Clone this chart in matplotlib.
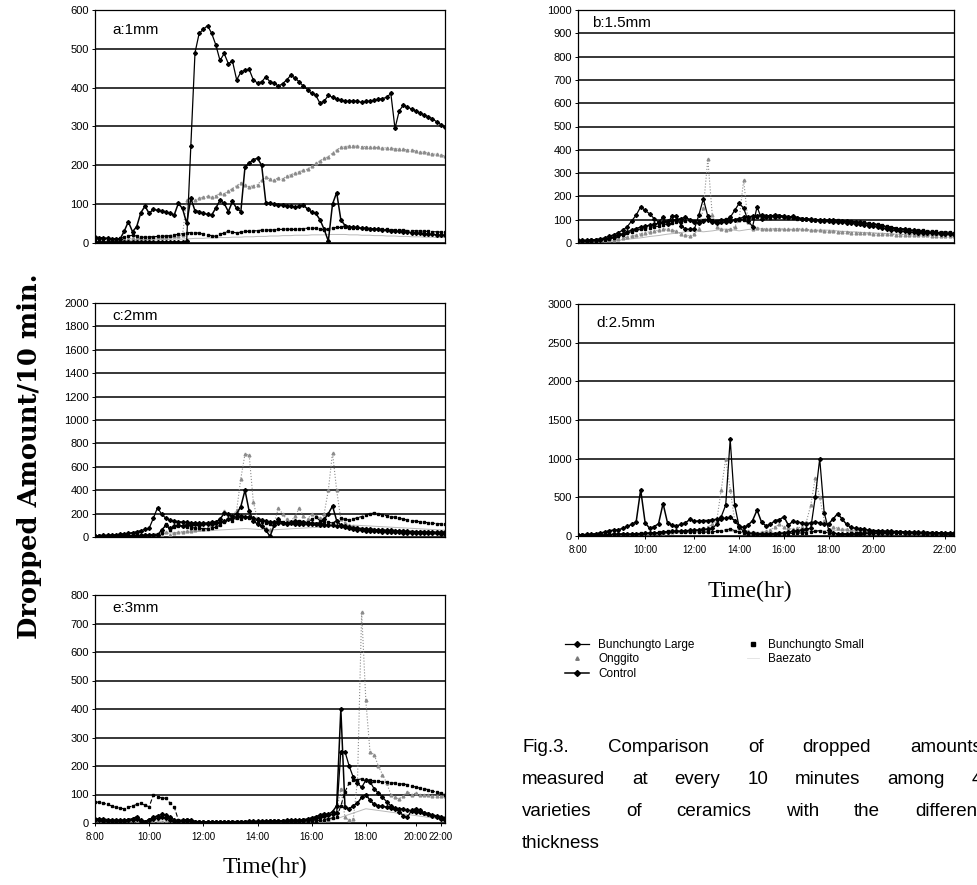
import numpy as np
import matplotlib
matplotlib.use("Agg")
import matplotlib.pyplot as plt
from matplotlib.lines import Line2D

# readings every 10 min from 8:00 to 22:00 (85 points per series)
series_names = ["Bunchungto Large", "Bunchungto Small", "Onggito", "Baezato", "Control"]

# ---- a : 1mm
a_large = [3, 3, 3, 3, 3, 3, 3, 3, 3, 3, 3, 3, 3, 3, 3, 3, 3, 3, 3, 3, 3, 3,
           5, 250, 490, 540, 550, 560, 540, 510, 470, 488, 462, 468, 420, 440, 445, 447, 420, 412,
           415, 428, 415, 412, 404, 410, 420, 432, 425, 415, 404, 395, 385, 380, 360, 365, 380, 375,
           370, 368, 365, 365, 366, 365, 362, 365, 365, 368, 370, 372, 375, 385, 295, 340, 355, 350,
           345, 340, 335, 330, 325, 320, 312, 305, 298]
a_small = [10, 10, 10, 9, 9, 10, 12, 15, 18, 20, 18, 15, 15, 16, 16, 17, 17, 18, 19, 21, 22, 24,
           26, 27, 27, 25, 23, 21, 19, 17, 22, 26, 30, 28, 26, 28, 30, 30, 31, 32, 33, 34, 33, 34,
           35, 35, 36, 35, 35, 36, 37, 38, 38, 38, 36, 34, 36, 38, 40, 40, 40, 39, 39, 38, 38, 37,
           37, 36, 36, 35, 35, 34, 34, 33, 33, 32, 32, 31, 31, 30, 30, 29, 29, 28, 28]
a_onggito = [8, 8, 8, 8, 8, 9, 9, 10, 10, 12, 12, 12, 14, 14, 15, 15, 16, 16, 17, 18, 18, 20,
             110, 115, 110, 115, 118, 120, 118, 122, 128, 126, 135, 140, 148, 155, 150, 145, 148, 150,
             162, 170, 165, 162, 168, 165, 172, 176, 180, 183, 188, 190, 198, 205, 212, 218, 222, 232,
             240, 246, 248, 250, 250, 249, 248, 248, 247, 246, 246, 245, 245, 244, 243, 242, 241, 240,
             239, 237, 235, 234, 232, 230, 228, 226, 224]
a_baezato = [5, 5, 5, 4, 4, 5, 5, 6, 6, 6, 7, 7, 7, 8, 8, 8, 9, 9, 9, 10, 10, 10,
             11, 11, 12, 12, 12, 13, 13, 13, 14, 14, 14, 15, 15, 15, 16, 16, 16, 17, 17, 17,
             18, 18, 18, 19, 19, 19, 20, 20, 20, 20, 21, 21, 21, 21, 22, 22, 22, 22, 22, 21,
             21, 21, 20, 20, 20, 19, 19, 19, 18, 18, 18, 17, 17, 17, 16, 16, 16, 15, 15, 15,
             14, 14, 14]
a_control = [15, 14, 13, 12, 11, 11, 10, 30, 55, 29, 42, 78, 95, 76, 87, 84, 83, 80, 76, 72,
             102, 89, 51, 115, 83, 81, 76, 74, 72, 90, 110, 102, 81, 107, 89, 81, 196, 205, 215, 218,
             200, 104, 102, 100, 99, 97, 96, 94, 92, 95, 97, 88, 80, 76, 60, 35, 5, 100, 130, 60,
             45, 42, 40, 40, 38, 38, 37, 36, 35, 34, 33, 32, 31, 30, 29, 28, 27, 26, 25, 24,
             23, 22, 21, 20, 20]

# ---- b : 1.5mm
b_large = [10, 12, 12, 14, 15, 18, 22, 30, 35, 45,
           55, 70, 95, 120, 155, 140, 125, 105, 90, 110,
           80, 118, 115, 75, 60, 58, 60, 120, 190, 115,
           95, 92, 100, 95, 110, 140, 170, 150, 95, 70,
           155, 105, 110, 115, 112, 118, 110, 112, 115, 108,
           105, 102, 100, 98, 96, 95, 94, 92, 90, 88,
           86, 84, 82, 80, 78, 75, 72, 68, 64, 60,
           57, 54, 52, 50, 48, 46, 45, 44, 43, 42,
           41, 40, 40, 39, 38]
b_small = [8, 8, 9, 10, 10, 12, 14, 18, 22, 28,
           35, 42, 48, 55, 58, 62, 66, 70, 72, 78,
           82, 85, 88, 92, 95, 98, 96, 94, 100, 105,
           98, 95, 100, 102, 105, 100, 98, 100, 104, 108,
           110, 112, 110, 108, 112, 115, 110, 108, 106, 105,
           104, 102, 100, 100, 98, 96, 95, 97, 98, 96,
           95, 94, 92, 90, 88, 85, 82, 80, 76, 72,
           68, 65, 62, 60, 58, 56, 55, 54, 52, 50,
           50, 48, 48, 46, 45]
b_onggito = [5, 5, 6, 6, 8, 10, 10, 12, 15, 18,
             22, 25, 30, 35, 40, 45, 48, 50, 55, 58,
             60, 55, 50, 40, 35, 30, 40, 60, 150, 360,
             120, 70, 60, 55, 60, 70, 100, 270, 90, 60,
             65, 62, 60, 58, 60, 62, 60, 58, 60, 62,
             60, 58, 56, 55, 54, 52, 50, 50, 48, 48,
             46, 45, 44, 44, 42, 42, 40, 40, 40, 38,
             38, 36, 36, 35, 35, 34, 34, 33, 33, 32,
             32, 31, 31, 30, 30]
b_baezato = [5, 5, 5, 6, 6, 7, 8, 9, 10, 12,
             14, 16, 18, 20, 22, 25, 28, 30, 32, 35,
             38, 40, 42, 45, 48, 50, 52, 50, 48, 50,
             52, 55, 58, 60, 58, 55, 52, 55, 58, 60,
             62, 60, 58, 60, 62, 60, 58, 56, 58, 60,
             58, 56, 55, 54, 55, 56, 55, 54, 52, 50,
             50, 48, 48, 46, 45, 44, 44, 42, 42, 40,
             40, 38, 38, 36, 36, 35, 35, 34, 34, 33,
             33, 32, 32, 31, 30]
b_control = [12, 10, 10, 11, 12, 14, 16, 20, 26, 34,
             40, 48, 55, 62, 68, 72, 76, 80, 85, 90,
             95, 98, 100, 105, 110, 100, 90, 85, 95, 100,
             90, 85, 88, 92, 95, 100, 105, 110, 112, 115,
             118, 120, 118, 115, 120, 118, 115, 112, 110, 108,
             105, 104, 102, 100, 100, 98, 98, 97, 96, 95,
             94, 92, 90, 88, 85, 82, 80, 78, 74, 70,
             66, 62, 60, 58, 56, 54, 52, 50, 48, 46,
             45, 44, 42, 41, 40]

# ---- c : 2mm
c_large = [10, 12, 14, 16, 18, 20, 24, 28, 32, 38,
           45, 55, 65, 75, 160, 250, 195, 160, 145, 138,
           132, 128, 125, 122, 120, 118, 116, 115, 114, 118,
           125, 135, 150, 165, 175, 180, 175, 170, 160, 150,
           142, 135, 130, 126, 122, 120, 118, 116, 115, 114,
           112, 110, 110, 108, 106, 104, 102, 100, 98, 95,
           90, 85, 80, 76, 72, 70, 66, 64, 62, 60,
           58, 56, 54, 52, 50, 48, 47, 46, 45, 44,
           43, 42, 41, 40, 40]
c_small = [8, 8, 9, 9, 10, 10, 11, 12, 12, 13,
           14, 15, 16, 18, 20, 25, 30, 110, 60, 85,
           95, 90, 85, 80, 78, 75, 72, 70, 75, 85,
           100, 130, 150, 140, 160, 150, 175, 160, 150, 140,
           130, 120, 110, 115, 140, 130, 120, 125, 135, 140,
           130, 125, 150, 170, 140, 130, 125, 120, 140, 160,
           150, 145, 155, 165, 175, 190, 200, 205, 200, 190,
           182, 175, 168, 160, 152, 145, 140, 135, 130, 126,
           122, 118, 115, 112, 110]
c_onggito = [3, 3, 3, 4, 4, 4, 5, 5, 5, 6,
             6, 6, 7, 7, 8, 8, 10, 40, 20, 30,
             40, 45, 50, 55, 60, 65, 70, 80, 90, 110,
             150, 220, 200, 180, 230, 500, 710, 700, 300, 150,
             100, 80, 60, 120, 245, 200, 150, 130, 180, 245,
             180, 150, 200, 180, 160, 200, 400, 720, 400, 150,
             120, 100, 90, 85, 80, 75, 72, 70, 68, 66,
             64, 62, 60, 58, 56, 55, 54, 52, 50, 50,
             48, 47, 46, 45, 45]
c_baezato = [5, 6, 6, 7, 8, 9, 10, 12, 14, 15,
             16, 18, 20, 22, 25, 28, 30, 32, 35, 38,
             40, 42, 44, 45, 46, 48, 50, 52, 55, 58,
             60, 62, 64, 66, 68, 70, 72, 70, 68, 66,
             64, 62, 60, 62, 64, 66, 68, 70, 72, 74,
             76, 78, 80, 82, 84, 86, 88, 90, 92, 94,
             96, 98, 100, 100, 98, 96, 94, 92, 90, 88,
             86, 84, 82, 80, 78, 76, 74, 72, 70, 68,
             66, 64, 62, 60, 58]
c_control = [5, 5, 6, 6, 7, 8, 8, 9, 10, 10,
             12, 12, 14, 15, 15, 16, 60, 100, 75, 90,
             100, 95, 105, 100, 110, 105, 115, 120, 125, 130,
             150, 205, 195, 180, 200, 260, 400, 220, 140, 110,
             95, 60, 5, 100, 150, 120, 110, 125, 135, 130,
             125, 120, 118, 115, 120, 150, 200, 265, 140, 100,
             85, 75, 68, 62, 58, 55, 52, 50, 48, 46,
             45, 44, 42, 40, 38, 36, 35, 34, 33, 32,
             31, 30, 30, 29, 28]

# ---- d : 2.5mm
d_large = [10, 10, 12, 12, 14, 15, 16, 18, 20, 22,
           24, 26, 28, 30, 32, 34, 36, 40, 45, 50,
           55, 60, 62, 65, 70, 72, 75, 80, 85, 90,
           100, 150, 250, 400, 1250, 400, 120, 60, 40, 35,
           30, 30, 28, 30, 32, 35, 40, 50, 60, 70,
           80, 90, 100, 500, 1000, 300, 80, 40, 30, 25,
           25, 28, 30, 32, 34, 36, 38, 40, 42, 44,
           45, 46, 46, 45, 44, 42, 40, 38, 36, 35,
           34, 33, 32, 31, 30]
d_small = [12, 12, 14, 14, 16, 18, 20, 22, 24, 26,
           28, 30, 30, 32, 34, 36, 40, 45, 50, 55,
           60, 62, 60, 58, 55, 52, 50, 48, 50, 52,
           55, 60, 70, 80, 90, 70, 50, 40, 30, 28,
           26, 25, 24, 25, 26, 28, 30, 32, 35, 38,
           40, 45, 50, 60, 70, 50, 40, 35, 30, 28,
           30, 35, 40, 45, 50, 52, 50, 48, 46, 44,
           42, 40, 38, 36, 35, 34, 33, 32, 31, 30,
           30, 29, 28, 28, 27]
d_onggito = [5, 5, 6, 6, 8, 10, 12, 14, 16, 18,
             20, 22, 24, 26, 28, 30, 32, 35, 40, 45,
             50, 55, 60, 65, 70, 75, 80, 90, 100, 120,
             150, 200, 600, 1000, 600, 200, 100, 80, 60, 50,
             45, 50, 60, 80, 120, 150, 120, 100, 90, 100,
             120, 180, 400, 750, 500, 200, 150, 120, 100, 90,
             85, 80, 75, 70, 68, 65, 62, 60, 58, 56,
             54, 52, 50, 48, 46, 45, 44, 42, 40, 38,
             37, 36, 35, 34, 33]
d_baezato = [8, 8, 9, 10, 10, 11, 12, 12, 13, 14,
             15, 16, 18, 20, 22, 24, 26, 28, 30, 32,
             34, 36, 38, 40, 42, 44, 46, 48, 50, 52,
             55, 58, 60, 62, 60, 58, 55, 52, 50, 48,
             46, 45, 44, 45, 46, 48, 50, 52, 54, 56,
             58, 60, 62, 64, 66, 68, 70, 72, 74, 76,
             75, 72, 70, 68, 66, 64, 62, 60, 58, 56,
             54, 52, 50, 48, 46, 45, 44, 42, 40, 38,
             37, 36, 35, 34, 33]
d_control = [15, 18, 20, 25, 30, 40, 50, 70, 75, 80,
             100, 125, 150, 185, 600, 170, 100, 120, 160, 420,
             170, 140, 130, 150, 170, 215, 190, 195, 200, 200,
             210, 215, 225, 230, 240, 200, 130, 110, 140, 200,
             335, 180, 130, 150, 200, 210, 250, 140, 190, 180,
             170, 160, 170, 180, 170, 150, 160, 220, 290, 220,
             150, 110, 100, 95, 85, 75, 70, 68, 65, 62,
             60, 58, 56, 54, 52, 50, 48, 46, 45, 44,
             42, 41, 40, 40, 38]

# ---- e : 3mm
e_large = [10, 10, 8, 8, 8, 8, 8, 8, 10, 12,
           15, 8, 5, 10, 15, 18, 20, 18, 12, 8,
           6, 8, 10, 8, 4, 3, 3, 3, 3, 3,
           3, 3, 3, 3, 4, 4, 4, 4, 5, 5,
           5, 5, 6, 6, 6, 7, 7, 7, 8, 8,
           10, 12, 15, 18, 22, 25, 28, 30, 35, 250,
           250, 200, 160, 140, 125, 150, 145, 120, 105, 90,
           75, 60, 50, 40, 25, 20, 45, 50, 45, 35,
           30, 25, 20, 15, 10]
e_small = [75, 72, 70, 65, 60, 55, 52, 50, 55, 60,
           65, 69, 62, 57, 98, 92, 88, 87, 70, 57,
           11, 8, 6, 5, 5, 5, 5, 5, 5, 5,
           5, 5, 5, 5, 5, 5, 5, 5, 5, 5,
           5, 5, 5, 5, 5, 5, 5, 5, 6, 6,
           6, 7, 8, 8, 10, 12, 15, 18, 20, 60,
           110, 140, 150, 152, 155, 152, 150, 148, 146, 145,
           143, 141, 140, 138, 136, 135, 130, 126, 122, 120,
           117, 112, 108, 104, 100]
e_onggito = [3, 3, 3, 3, 3, 3, 3, 3, 3, 3,
             3, 3, 3, 3, 3, 3, 3, 3, 3, 3,
             3, 3, 3, 3, 3, 3, 3, 3, 3, 3,
             3, 3, 3, 3, 3, 3, 3, 3, 3, 3,
             3, 3, 3, 3, 3, 3, 3, 3, 3, 3,
             4, 4, 5, 5, 6, 8, 10, 20, 40, 120,
             20, 10, 15, 150, 740, 430, 250, 240, 200, 170,
             140, 100, 90, 85, 95, 110, 100, 105, 100, 98,
             97, 96, 96, 95, 95]
e_baezato = [6, 6, 6, 7, 7, 7, 8, 8, 8, 9,
             9, 9, 8, 8, 8, 7, 7, 7, 6, 6,
             6, 6, 5, 5, 5, 5, 5, 5, 5, 5,
             5, 5, 5, 5, 5, 5, 5, 5, 5, 5,
             5, 5, 5, 5, 6, 6, 6, 6, 6, 6,
             7, 7, 7, 8, 8, 9, 10, 12, 15, 20,
             25, 30, 35, 40, 45, 50, 48, 46, 44, 42,
             40, 38, 36, 34, 32, 30, 28, 26, 24, 22,
             20, 18, 16, 14, 12]
e_control = [15, 14, 13, 12, 10, 10, 10, 10, 12, 15,
             22, 10, 5, 12, 20, 25, 30, 28, 20, 12,
             8, 10, 12, 10, 5, 5, 4, 4, 4, 4,
             4, 4, 4, 5, 5, 5, 5, 6, 6, 6,
             6, 7, 7, 8, 8, 8, 9, 10, 10, 10,
             12, 14, 18, 22, 28, 32, 30, 40, 60, 400,
             55, 50, 60, 70, 90, 100, 80, 65, 60, 58,
             56, 54, 52, 50, 48, 45, 42, 40, 38, 35,
             32, 28, 25, 22, 18]

time_labels = ["8:00", "10:00", "12:00", "14:00", "16:00", "18:00", "20:00", "22:00"]
d_tick_idx = [0, 15, 26, 36, 46, 56, 66, 82]
e_tick_idx = [0, 13, 26, 39, 52, 65, 77, 83]

styles = {
    "Baezato": dict(color="#b8b8b8", lw=0.7, ls="-"),
    "Onggito": dict(color="#8c8c8c", lw=0.8, ls=":", marker="^", ms=2.0),
    "Bunchungto Small": dict(color="black", lw=0.8, ls=(0, (4, 2)), marker="s", ms=1.8),
    "Bunchungto Large": dict(color="black", lw=0.9, ls="-", marker="D", ms=2.0),
    "Control": dict(color="black", lw=1.1, ls="-", marker="D", ms=2.0),
}
draw_order = ["Baezato", "Onggito", "Bunchungto Small", "Bunchungto Large", "Control"]

tick_font = "Liberation Sans"
W, H = 977, 885

fig = plt.figure(figsize=(W / 100, H / 100), dpi=100)


def px_rect(left, top, right, bottom):
    return [left / W, 1 - bottom / H, (right - left) / W, (bottom - top) / H]


def draw_panel(rect, label, lab_xy, data, ymax, ystep, tick_idx=None):
    ax = fig.add_axes(rect)
    for name in draw_order:
        vals = data[series_names.index(name)]
        ax.plot(np.arange(len(vals)), vals, **styles[name])
    ax.set_xlim(0, 84)
    ax.set_ylim(0, ymax)
    ax.set_yticks(np.arange(0, ymax + 1, ystep))
    ax.yaxis.grid(True, color="black", lw=1.1)
    ax.set_axisbelow(True)
    for sp in ax.spines.values():
        sp.set_linewidth(0.9)
    ax.tick_params(axis="y", length=2.5, width=0.7, pad=2)
    for t in ax.get_yticklabels():
        t.set_family(tick_font)
        t.set_fontsize(8)
    if tick_idx is None:
        ax.set_xticks([])
    else:
        ax.set_xticks(tick_idx)
        ax.set_xticklabels(time_labels, family=tick_font, fontsize=7)
        ax.tick_params(axis="x", length=2.5, width=0.7, pad=4)
    ax.text(lab_xy[0], lab_xy[1], label, transform=ax.transAxes, fontsize=11,
            family="Liberation Sans", va="center", ha="left")
    return ax


draw_panel(px_rect(95, 10, 445, 243), "a:1mm", (0.05, 0.915),
           [a_large, a_small, a_onggito, a_baezato, a_control], 600, 100)
draw_panel(px_rect(578, 10, 954, 243), "b:1.5mm", (0.037, 0.944),
           [b_large, b_small, b_onggito, b_baezato, b_control], 1000, 100)
draw_panel(px_rect(95, 303, 445, 537), "c:2mm", (0.049, 0.944),
           [c_large, c_small, c_onggito, c_baezato, c_control], 2000, 200)
draw_panel(px_rect(578, 304, 954, 536), "d:2.5mm", (0.05, 0.918),
           [d_large, d_small, d_onggito, d_baezato, d_control], 3000, 500, d_tick_idx)
draw_panel(px_rect(95, 595, 445, 823), "e:3mm", (0.049, 0.943),
           [e_large, e_small, e_onggito, e_baezato, e_control], 800, 100, e_tick_idx)

# shared axis titles
fig.text(30 / W, 1 - 456 / H, "Dropped Amount/10 min.", rotation=90, ha="center", va="center",
         family="DejaVu Serif", fontweight="bold", fontsize=18.5)
fig.text(265 / W, 1 - 867 / H, "Time(hr)", ha="center", va="center",
         family="Liberation Serif", fontsize=17)
fig.text(750 / W, 1 - 591 / H, "Time(hr)", ha="center", va="center",
         family="Liberation Serif", fontsize=17)

# legend
h_large = Line2D([], [], color="black", lw=0.9, marker="D", ms=3)
h_small = Line2D([], [], color="black", ls="none", marker="s", ms=3)
h_ongg = Line2D([], [], color="#777777", ls="none", marker="^", ms=2.5)
h_baez = Line2D([], [], color="#e0e0e0", lw=0.6)
h_ctrl = Line2D([], [], color="black", lw=1.1, marker="D", ms=3)
leg_font = dict(family="Liberation Sans", size=8.5)
fig.legend([h_large, h_ongg, h_ctrl], ["Bunchungto Large", "Onggito", "Control"],
           loc="upper left", bbox_to_anchor=(565 / W, 1 - 639 / H), frameon=False,
           borderpad=0, borderaxespad=0, handlelength=2.0, handletextpad=0.8,
           labelspacing=0.2, prop=leg_font)
fig.legend([h_small, h_baez], ["Bunchungto Small", "Baezato"],
           loc="upper left", bbox_to_anchor=(747 / W, 1 - 639 / H), frameon=False,
           borderpad=0, borderaxespad=0, handlelength=1.0, handletextpad=0.8,
           labelspacing=0.2, prop=leg_font)

# caption, justified like the printed page
caption_lines = ["Fig.3.  Comparison  of  dropped  amounts",
                 "measured at every 10 minutes among 4",
                 "varieties of ceramics with the different",
                 "thickness"]
caption_y = [748, 780, 812, 843]
x0, x1 = 522, 982
cap_size = 13.5
renderer = fig.canvas.get_renderer()
for i, line in enumerate(caption_lines):
    yf = 1 - caption_y[i] / H
    if i == len(caption_lines) - 1:
        fig.text(x0 / W, yf, line, va="center", ha="left", family="Liberation Sans", fontsize=cap_size)
        continue
    words = line.split()
    texts = [fig.text(0, yf, w, va="center", ha="left", family="Liberation Sans", fontsize=cap_size)
             for w in words]
    widths = [t.get_window_extent(renderer).width for t in texts]
    gap = (x1 - x0 - sum(widths)) / (len(words) - 1)
    pos = x0
    for t, w in zip(texts, widths):
        t.set_x(pos / W)
        pos += w + gap

fig.savefig("out.png", dpi=100)
